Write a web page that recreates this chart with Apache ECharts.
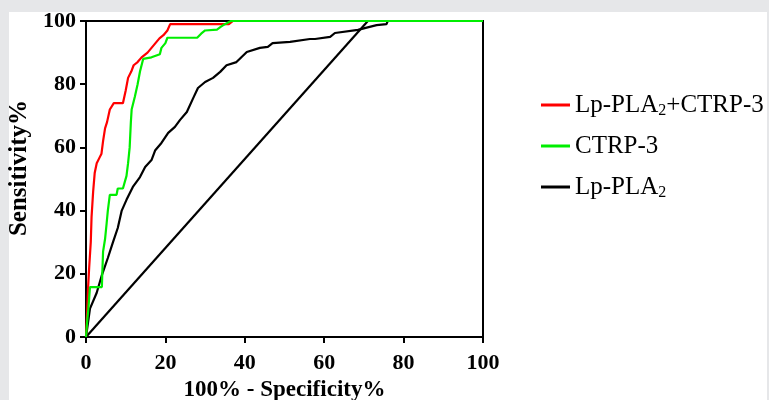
<!DOCTYPE html>
<html>
<head>
<meta charset="utf-8">
<script src="https://cdn.jsdelivr.net/npm/echarts@6/dist/echarts.min.js"></script>
<style>
html,body{margin:0;padding:0;background:#e6e7e9;}
#panel{position:absolute;left:9px;top:12px;width:758px;height:388px;background:#fff;}
#chart{position:absolute;left:0;top:0;width:769px;height:400px;}
</style>
</head>
<body>
<div id="panel"></div>
<div id="chart"></div>
<script>
// Series names
const seriesNames = ['Lp-PLA2+CTRP-3', 'CTRP-3', 'Lp-PLA2'];
// Axis ticks
const xTicks = [0, 20, 40, 60, 80, 100];
const yTicks = [0, 20, 40, 60, 80, 100];

// ROC points [100% - Specificity%, Sensitivity%]
const combined = [
  [0,0],[0.3,8],[0.5,15],[0.8,22],[1.2,30],[1.4,38],[1.6,42],[1.8,46],[2.2,52],[2.7,55],
  [3.5,57],[3.9,58],[4.3,62],[4.8,66],[5.3,68],[6.0,72],[7.0,74],[9.3,74],[10,78],[10.6,82],
  [11.4,84],[12,86],[13,87],[14,88.5],[15.5,90],[16.5,91.5],[17.5,93],[18.5,94.5],[19.5,95.5],
  [20.5,97],[21.2,99],[36,99],[37,100],[100,100]
];
const ctrp3 = [
  [0,0],[0.3,5],[0.6,9],[1,15.8],[4,15.8],[4.1,20],[4.3,27],[4.8,31],[5.2,36],[5.5,40],[6,45],
  [7.7,45],[8,47],[9.3,47],[10.2,51],[10.6,55],[11,60],[11.3,68],[11.5,72],[12.3,76],[13,80],
  [13.6,84],[14.4,88],[16.5,88.5],[18.6,89.5],[19,91.5],[20,93],[20.5,94.7],[28,94.7],[29,96],
  [30,97],[33,97.3],[34,98.2],[35,99],[36.5,100],[100,100]
];
const lppla2 = [
  [0,0],[1,9],[2.7,14],[4,19.6],[5.5,25],[6.8,30],[8,34.5],[9,40],[10.2,43.4],[11.8,47.5],
  [13.6,50.6],[14.9,53.8],[16.5,56],[17.4,59],[19,61.4],[20.7,64.6],[22.4,66.5],[23.7,68.7],
  [25.4,71.2],[27,75.6],[28.2,78.8],[30,80.7],[32,82],[33.8,83.9],[35.4,86],[37.9,87],[39.2,88.6],
  [40.5,90.2],[43.8,91.5],[45.8,91.8],[47,93],[51.4,93.4],[56.4,94.3],[57.7,94.3],[61.5,95],
  [62.7,96.2],[68.5,97.2],[70.7,97.9],[73.2,98.7],[75.7,99],[76,100],[100,100]
];
const refLine = [[0,0],[71,100]];

const chart = echarts.init(document.getElementById('chart'));
const serif = '"Liberation Serif", "Times New Roman", serif';
const axisCommon = {
  type: 'value', min: 0, max: 100, interval: 20,
  axisLine: {show: true, lineStyle: {color: '#000', width: 2}},
  axisTick: {show: true, inside: false, length: 6, lineStyle: {color: '#000', width: 2}},
  splitLine: {show: false},
  axisLabel: {color: '#000', fontFamily: serif, fontWeight: 'bold', fontSize: 22},
  nameLocation: 'middle',
  nameTextStyle: {color: '#000', fontFamily: serif, fontWeight: 'bold', fontSize: 23}
};
chart.setOption({
  animation: false,
  grid: {left: 86, right: 286, top: 21, bottom: 63, containLabel: false, outerBoundsMode: 'none',
    show: true, borderColor: '#000', borderWidth: 2, backgroundColor: 'transparent'},
  xAxis: Object.assign({}, axisCommon, {name: '100% - Specificity%', nameGap: 42,
    axisLabel: Object.assign({}, axisCommon.axisLabel, {margin: 15, customValues: xTicks})}),
  yAxis: Object.assign({}, axisCommon, {name: 'Sensitivity%', nameGap: 53,
    nameTextStyle: Object.assign({}, axisCommon.nameTextStyle, {fontSize: 25, padding: [0, 0, 0, 22]}),
    axisLabel: Object.assign({}, axisCommon.axisLabel, {margin: 10, customValues: yTicks})}),
  legend: {
    data: seriesNames,
    orient: 'vertical',
    left: 541, top: 91, padding: 0,
    icon: 'rect', itemWidth: 29, itemHeight: 3, itemGap: 13,
    textStyle: {color: '#000', fontFamily: serif, fontSize: 25, lineHeight: 28,
      rich: {sub: {fontFamily: serif, fontSize: 16, lineHeight: 15, verticalAlign: 'bottom', color: '#000'}}},
    formatter: function (n) { return n.replace('PLA2', 'PLA{sub|2}'); }
  },
  series: [
    {name: 'ref', type: 'line', data: refLine, symbol: 'none', lineStyle: {color: '#000', width: 2.2}, itemStyle: {color: '#000'}},
    {name: seriesNames[2], type: 'line', data: lppla2, symbol: 'none', lineStyle: {color: '#000', width: 2.2}, itemStyle: {color: '#000'}},
    {name: seriesNames[0], type: 'line', data: combined, symbol: 'none', lineStyle: {color: '#ff0000', width: 2.2}, itemStyle: {color: '#ff0000'}},
    {name: seriesNames[1], type: 'line', data: ctrp3, symbol: 'none', lineStyle: {color: '#00ee00', width: 2.2}, itemStyle: {color: '#00ee00'}}
  ]
});
</script>
</body>
</html>
